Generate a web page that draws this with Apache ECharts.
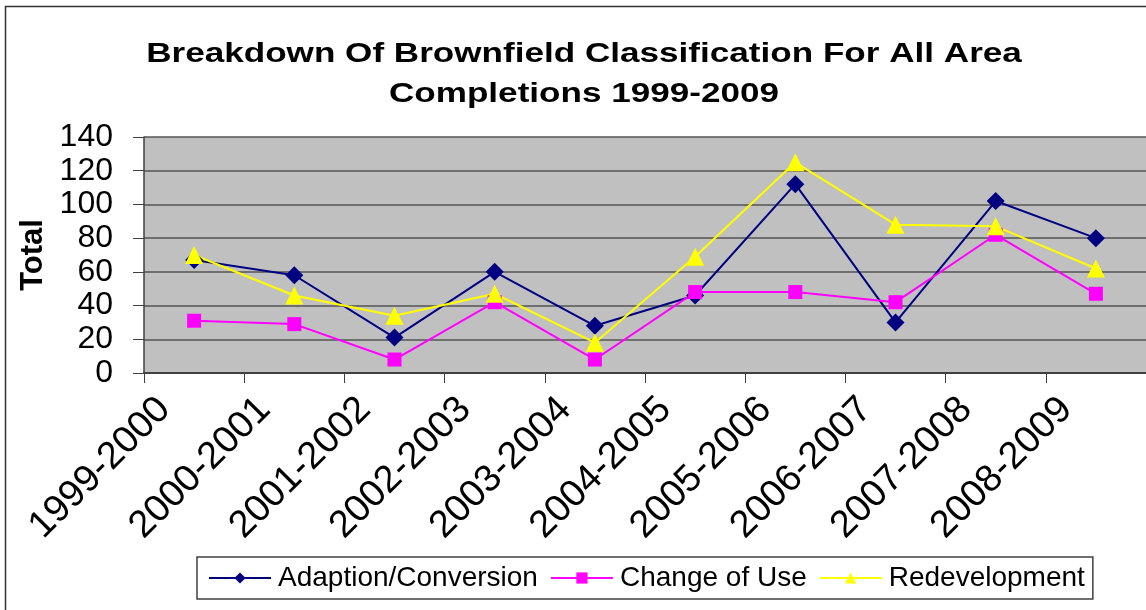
<!DOCTYPE html>
<html>
<head>
<meta charset="utf-8">
<script src="https://cdn.jsdelivr.net/npm/echarts@6/dist/echarts.min.js"></script>
<style>
  html, body { margin: 0; padding: 0; background: #fff; }
  #chart { width: 1146px; height: 610px; }
</style>
</head>
<body>
<div id="chart"></div>
<script>
// years on the category axis
const periods = ['1999-2000', '2000-2001', '2001-2002', '2002-2003', '2003-2004',
  '2004-2005', '2005-2006', '2006-2007', '2007-2008', '2008-2009']
// values
const adaption = [67, 58, 21, 60, 28, 46, 112, 30, 102, 80]
const changeOfUse = [31, 29, 8, 42, 8, 48, 48, 42, 82, 47]
const redevelopment = [70, 46, 34, 47, 18, 69, 125, 88, 87, 62]
const yTicks = { min: 0, max: 140, step: 20 }

const font = 'Liberation Sans, Arial, sans-serif'
const chart = echarts.init(document.getElementById('chart'))

function line(name, data, color, symbol, size) {
  return {
    name: name,
    type: 'line',
    data: data,
    symbol: symbol,
    symbolSize: size,
    showAllSymbol: true,
    lineStyle: { color: color, width: 2 },
    itemStyle: { color: color },
    emphasis: { disabled: true },
    animation: false
  }
}

chart.setOption({
  backgroundColor: '#fff',
  legend: {
    left: 197,
    top: 557,
    padding: [7, 8, 7, 11],
    itemWidth: 62,
    itemHeight: 14,
    itemGap: 12,
    borderColor: '#404040',
    borderWidth: 1.5,
    borderRadius: 0,
    textStyle: { fontFamily: font, fontSize: 28, color: '#000', padding: [0, 0, 0, 2] },
    data: ['Adaption/Conversion', 'Change of Use', 'Redevelopment']
  },
  grid: { left: 144, top: 137, width: 1005, height: 236, show: true, backgroundColor: '#c0c0c0', borderWidth: 0 },
  xAxis: {
    type: 'category',
    data: periods,
    boundaryGap: true,
    axisLine: { lineStyle: { color: '#404040', width: 2 } },
    axisTick: { show: true, length: 10, lineStyle: { color: '#404040', width: 1 } },
    // labels sit left of the category centre in the original
    axisLabel: { rotate: 45, interval: 0, margin: 1, padding: [0, 42, 0, 0], fontFamily: font, fontSize: 38, color: '#000' },
    splitLine: { show: false }
  },
  yAxis: {
    type: 'value',
    min: yTicks.min,
    max: yTicks.max,
    interval: yTicks.step,
    name: 'Total',
    nameLocation: 'middle',
    nameRotate: 90,
    nameGap: 92,
    nameTextStyle: { fontFamily: font, fontSize: 31, fontWeight: 'bold', color: '#000' },
    axisLine: { show: true, lineStyle: { color: '#404040', width: 1.5 } },
    axisTick: { show: true, inside: false, length: 11, lineStyle: { color: '#404040', width: 1 } },
    axisLabel: { margin: 31, fontFamily: font, fontSize: 32, color: '#000' },
    splitLine: { show: true, lineStyle: { color: '#555', width: 1.5 } }
  },
  graphic: [{
    type: 'rect',
    shape: { x: 5.5, y: 6.5, width: 1200, height: 700 },
    style: { fill: null, stroke: '#333', lineWidth: 1.5 },
    silent: true
  }, {
    // the title is stretched sideways in the original
    type: 'text',
    x: 584,
    y: 35,
    scaleX: 1.3,
    style: {
      text: 'Breakdown Of Brownfield Classification For All Area\nCompletions 1999-2009',
      font: 'bold 27px ' + font,
      fill: '#000',
      align: 'center',
      lineHeight: 40
    },
    silent: true
  }],
  series: [
    line('Adaption/Conversion', adaption, '#000080', 'diamond', 18),
    line('Change of Use', changeOfUse, '#ff00ff', 'rect', 14),
    line('Redevelopment', redevelopment, '#ffff00', 'triangle', 18)
  ]
})
</script>
</body>
</html>
